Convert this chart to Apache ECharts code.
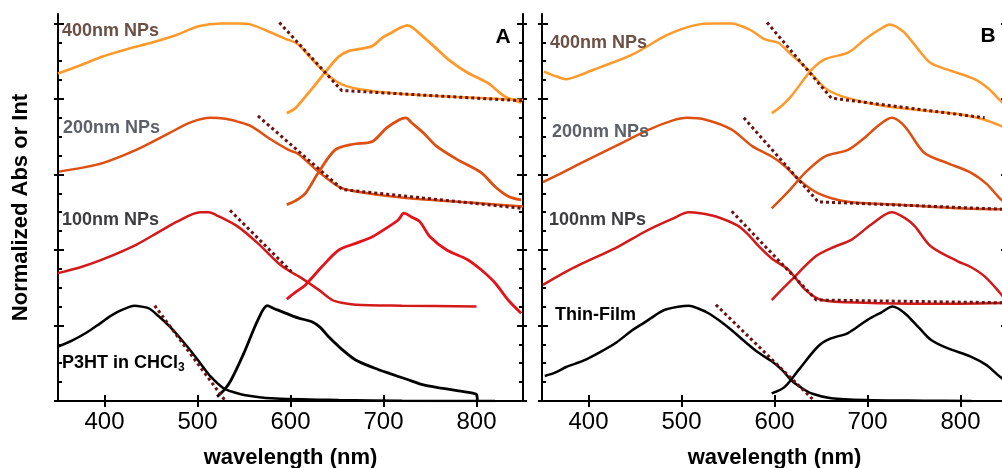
<!DOCTYPE html>
<html><head><meta charset="utf-8">
<script src="https://cdn.jsdelivr.net/npm/echarts@6/dist/echarts.min.js"></script>
<style>html,body{margin:0;padding:0;background:#fff}#c{width:1002px;height:468px}</style>
</head><body><div id="c"></div>
<script>
// ---------- data (wavelength nm, normalized value incl. vertical offset) ----------
const xTicks = [400, 500, 600, 700, 800];
const yMajor = [0, 0.8, 1.6, 2.4, 3.2, 4.0];

// Panel A
const A_abs400 = [[350,3.47],[375,3.56],[398,3.65],[425,3.73],[452,3.80],[478,3.88],[501,3.97],[525,4.0],[545,4.0],[557,3.99],[575,3.92],[594,3.84],[608,3.78],[623,3.62],[637,3.48],[652,3.37],[670,3.31],[700,3.27],[724,3.25],[779,3.22],[850,3.19]];
const A_fit400 = [[588,4.01],[655,3.29],[850,3.18]];
const A_pl400 = [[596,3.05],[605,3.10],[613,3.19],[625,3.33],[637,3.48],[652,3.65],[663,3.71],[675,3.73],[688,3.76],[699,3.85],[710,3.91],[717,3.95],[726,3.98],[732,3.95],[738,3.90],[754,3.76],[772,3.60],[790,3.48],[812,3.37],[830,3.23],[848,3.16]];

const A_abs200 = [[351,2.43],[375,2.47],[398,2.52],[434,2.66],[470,2.84],[492,2.95],[514,3.0],[530,2.99],[543,2.96],[558,2.91],[579,2.77],[598,2.66],[608,2.62],[630,2.43],[652,2.27],[670,2.22],[724,2.15],[797,2.10],[850,2.06]];
const A_fit200 = [[565,3.02],[656,2.24],[850,2.04]];
const A_pl200 = [[596,2.08],[605,2.12],[616,2.20],[630,2.42],[648,2.66],[667,2.72],[688,2.75],[703,2.89],[717,2.98],[724,3.0],[730,2.95],[743,2.84],[757,2.70],[779,2.56],[805,2.42],[820,2.27],[834,2.17],[848,2.13]];

const A_abs100 = [[350,1.355],[375,1.42],[398,1.50],[434,1.655],[460,1.80],[478,1.90],[503,2.0],[512,2.0],[520,1.97],[543,1.85],[565,1.67],[587,1.46],[600,1.37],[609,1.32],[630,1.18],[645,1.07],[655,1.04],[670,1.02],[720,1.01],[800,1.0]];
const A_fit100 = [[535,2.02],[601,1.37]];
const A_pl100 = [[596,1.08],[605,1.15],[616,1.23],[634,1.425],[652,1.60],[670,1.67],[688,1.74],[706,1.85],[716,1.92],[722,1.99],[730,1.95],[739,1.90],[750,1.74],[768,1.60],[790,1.50],[805,1.39],[820,1.25],[834,1.07],[848,0.93]];

const A_absSol = [[350,0.576],[365,0.64],[380,0.72],[395,0.82],[408,0.91],[420,0.97],[432,1.01],[440,1.0],[448,0.98],[458,0.90],[470,0.79],[481,0.67],[492,0.54],[503,0.40],[514,0.26],[528,0.135],[540,0.09],[550,0.064],[579,0.029],[652,0.01],[720,0.003],[820,0.0]];
const A_fitSol = [[454,1.01],[530,0.0]];
const A_plSol = [[521,0.046],[529,0.12],[536,0.22],[550,0.51],[565,0.86],[575,1.01],[582,0.98],[590,0.95],[608,0.88],[623,0.84],[632,0.78],[641,0.68],[655,0.55],[670,0.435],[690,0.35],[707,0.29],[725,0.23],[743,0.17],[760,0.14],[779,0.11],[797,0.08],[800,0.07],[801,0.0]];

// Panel B
const B_abs400 = [[352,3.49],[365,3.44],[376,3.41],[390,3.45],[411,3.53],[447,3.67],[483,3.87],[500,3.94],[519,3.99],[535,4.0],[554,4.0],[565,3.97],[576,3.92],[590,3.83],[604,3.795],[618,3.67],[636,3.51],[654,3.32],[672,3.23],[715,3.13],[768,3.07],[804,3.03],[826,2.98],[842,2.92],[850,2.88]];
const B_fit400 = [[592,4.01],[661,3.21],[826,3.0]];
const B_pl400 = [[597,3.05],[607,3.12],[618,3.23],[640,3.51],[654,3.62],[679,3.69],[697,3.83],[712,3.93],[724,3.99],[730,3.97],[740,3.90],[755,3.72],[768,3.58],[786,3.51],[815,3.41],[830,3.31],[842,3.19],[850,3.12]];

const B_abs200 = [[351,2.32],[372,2.42],[394,2.53],[429,2.70],[465,2.875],[490,2.97],[506,3.0],[526,2.98],[554,2.875],[576,2.70],[597,2.59],[611,2.49],[626,2.345],[647,2.20],[679,2.11],[733,2.08],[804,2.04],[850,2.03]];
const B_fit200 = [[567,3.0],[647,2.11],[850,2.03]];
const B_pl200 = [[597,2.04],[615,2.22],[633,2.42],[654,2.59],[679,2.66],[697,2.79],[712,2.92],[726,3.0],[740,2.91],[761,2.63],[786,2.52],[811,2.42],[828,2.30],[842,2.15],[850,2.08]];

const B_abs100 = [[351,1.23],[372,1.35],[394,1.46],[429,1.62],[458,1.78],[472,1.85],[490,1.93],[508,2.0],[520,1.99],[537,1.955],[560,1.86],[572,1.76],[583,1.64],[597,1.51],[615,1.39],[633,1.18],[651,1.07],[697,1.04],[768,1.03],[850,1.04]];
const B_fit100 = [[554,2.01],[645,1.07],[850,1.04]];
const B_pl100 = [[597,1.07],[618,1.28],[644,1.53],[661,1.62],[683,1.71],[704,1.87],[726,2.0],[740,1.94],[751,1.85],[768,1.64],[797,1.48],[811,1.42],[826,1.32],[842,1.15],[850,1.05]];

const B_absFilm = [[353,0.265],[364,0.30],[376,0.36],[395,0.43],[411,0.51],[430,0.62],[447,0.75],[460,0.83],[472,0.91],[483,0.97],[508,1.01],[518,0.98],[529,0.93],[541,0.85],[554,0.75],[568,0.63],[583,0.51],[597,0.42],[608,0.33],[618,0.22],[629,0.14],[640,0.08],[661,0.03],[697,0.01],[760,0.003],[812,0.0]];
const B_fitFilm = [[537,1.02],[643,0.0]];
const B_plFilm = [[597,0.08],[611,0.15],[626,0.33],[647,0.58],[660,0.66],[679,0.72],[700,0.86],[715,0.94],[727,1.0],[740,0.93],[755,0.78],[768,0.65],[786,0.56],[811,0.47],[828,0.38],[842,0.26],[850,0.20]];

// ---------- styling ----------
const C400 = '#ff9a2a', C200 = '#de4f10', C100 = '#d31a1a', C100pl = '#e4121b', CBLK = '#000000', CFIT = '#6b1212';
const FONT = '"Liberation Sans", Arial, sans-serif';
const yMinor = [];
for (let i = 1; i < 20; i++) { if (i % 4 !== 0) yMinor.push(+(i * 0.2).toFixed(2)); }

const YMAX = 4.1;
function xAxes(grid) {
  return [
    { gridIndex: grid, type: 'value', position: 'bottom', min: 350, max: 850,
      axisLine: { lineStyle: { color: '#000', width: 2 } },
      axisTick: { inside: true, length: 6, customValues: xTicks, lineStyle: { color: '#000', width: 2 } },
      axisLabel: { customValues: xTicks, fontSize: 24, color: '#000', fontFamily: FONT, margin: 9 },
      splitLine: { show: false },
      name: 'wavelength (nm)', nameLocation: 'middle', nameGap: 46,
      nameTextStyle: { fontSize: 22, fontWeight: 'bold', color: '#000', fontFamily: FONT } },
    { gridIndex: grid, type: 'value', position: 'top', min: 350, max: 850,
      axisLine: { lineStyle: { color: '#000', width: 2 } },
      axisTick: { inside: true, length: 6, customValues: xTicks, lineStyle: { color: '#000', width: 2 } },
      axisLabel: { show: false }, splitLine: { show: false } }
  ];
}
function yAxes(grid, withName) {
  const base = { gridIndex: grid, type: 'value', min: 0, max: YMAX, splitLine: { show: false }, axisLabel: { show: false } };
  const out = [];
  ['left', 'right'].forEach(pos => {
    out.push(Object.assign({}, base, { position: pos,
      axisLine: { show: true, lineStyle: { color: '#000', width: 2 } },
      axisTick: { inside: true, length: 6, customValues: yMajor, lineStyle: { color: '#000', width: 2 } } },
      (withName && pos === 'left') ? { name: 'Normalized Abs or Int', nameLocation: 'middle', nameGap: 26,
        nameTextStyle: { fontSize: 22, fontWeight: 'bold', color: '#000', fontFamily: FONT } } : {}));
    out.push(Object.assign({}, base, { position: pos, axisLine: { show: false },
      axisTick: { inside: true, length: 4, customValues: yMinor, lineStyle: { color: '#000', width: 2 } } }));
    out.push(Object.assign({}, base, { position: pos, axisLine: { show: false },
      axisTick: { inside: false, length: 4, customValues: yMajor, lineStyle: { color: '#000', width: 2 } } }));
  });
  return out;
}

function curve(data, color, xi, yi, w) {
  return { type: 'line', data, xAxisIndex: xi, yAxisIndex: yi, showSymbol: false, smooth: 0.3,
    lineStyle: { color, width: w || 2.5 }, silent: true, animation: false, clip: true };
}
function fit(data, xi, yi) {
  return { type: 'line', data, xAxisIndex: xi, yAxisIndex: yi, showSymbol: false, smooth: false,
    lineStyle: { color: CFIT, width: 3, type: [3, 3] }, silent: true, animation: false, z: 5, clip: true };
}

const series = [
  curve(A_abs400, C400, 0, 0), curve(A_pl400, C400, 0, 0, 2.8), fit(A_fit400, 0, 0),
  curve(A_abs200, C200, 0, 0), curve(A_pl200, C200, 0, 0, 2.8), fit(A_fit200, 0, 0),
  curve(A_abs100, C100, 0, 0), curve(A_pl100, C100pl, 0, 0, 2.8), fit(A_fit100, 0, 0),
  curve(A_absSol, CBLK, 0, 0), curve(A_plSol, CBLK, 0, 0, 2.8), fit(A_fitSol, 0, 0),
  curve(B_abs400, C400, 2, 6), curve(B_pl400, C400, 2, 6), fit(B_fit400, 2, 6),
  curve(B_abs200, C200, 2, 6), curve(B_pl200, C200, 2, 6), fit(B_fit200, 2, 6),
  curve(B_abs100, C100, 2, 6), curve(B_pl100, C100, 2, 6), fit(B_fit100, 2, 6),
  curve(B_absFilm, CBLK, 2, 6), curve(B_plFilm, CBLK, 2, 6), fit(B_fitFilm, 2, 6)
];

function label(text, x, y, color, size) {
  return { type: 'text', x, y, silent: true, z: 10,
    style: { text, fill: color, font: 'bold ' + (size || 18) + 'px ' + FONT, verticalAlign: 'middle', align: 'left' } };
}
const graphics = [
  label('400nm NPs', 62, 31, '#6a5045'),
  label('200nm NPs', 63, 128, '#5d6067'),
  label('100nm NPs', 62, 220, '#3d3d40'),
  { type: 'text', x: 62, y: 363, silent: true, z: 10,
    style: { text: '{m|P3HT in CHCl}{s|3}', verticalAlign: 'middle', align: 'left',
      rich: { m: { fontSize: 18, fontWeight: 'bold', fontFamily: FONT, fill: '#000', lineHeight: 22 },
              s: { fontSize: 12, fontWeight: 'bold', fontFamily: FONT, fill: '#000', lineHeight: 12, verticalAlign: 'bottom' } } } },
  label('400nm NPs', 550, 43, '#6a5045'),
  label('200nm NPs', 552, 132, '#5d6067'),
  label('100nm NPs', 549, 220, '#3d3d40'),
  label('Thin-Film', 555, 315, '#000'),
  { type: 'text', x: 503, y: 37, silent: true, z: 10, style: { text: 'A', fill: '#000', font: 'bold 21px ' + FONT, align: 'center', verticalAlign: 'middle' } },
  { type: 'text', x: 988, y: 36, silent: true, z: 10, style: { text: 'B', fill: '#000', font: 'bold 21px ' + FONT, align: 'center', verticalAlign: 'middle' } }
];

const chart = echarts.init(document.getElementById('c'), null, { renderer: 'canvas' });
chart.setOption({
  animation: false,
  backgroundColor: '#fff',
  grid: [
    { left: 58, top: 14, width: 465, height: 387, outerBoundsMode: 'none', containLabel: false },
    { left: 542, top: 14, width: 465, height: 387, outerBoundsMode: 'none', containLabel: false }
  ],
  xAxis: [].concat(xAxes(0), xAxes(1)),
  yAxis: [].concat(yAxes(0, true), yAxes(1, false)),
  series,
  graphic: graphics
});
</script></body></html>
